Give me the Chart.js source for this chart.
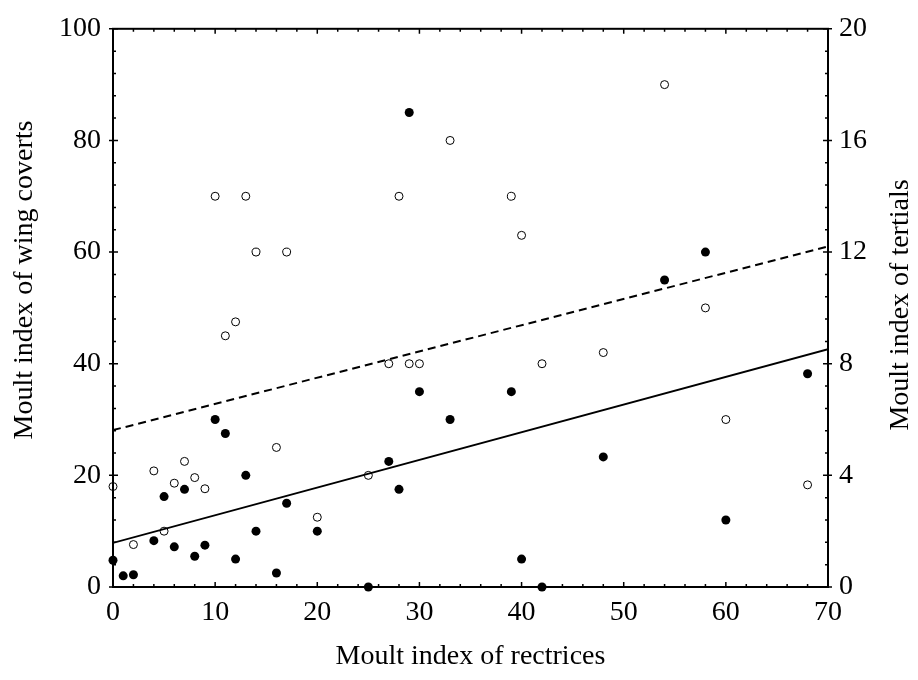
<!DOCTYPE html>
<html>
<head>
<meta charset="utf-8">
<script src="https://cdn.jsdelivr.net/npm/chart.js@4/dist/chart.umd.min.js"></script>
<style>
  html, body { margin: 0; padding: 0; background: #fff; }
  #wrap { width: 918px; height: 680px; }
</style>
</head>
<body>
<div id="wrap"><canvas id="chart" width="918" height="680"></canvas></div>
<script>
// Wing coverts (filled circles, left axis)
const covertX = [0, 1, 2, 4, 5, 6, 7, 8, 9, 10, 11, 12, 13, 14, 16, 17, 20, 25, 27, 28, 29, 30, 33, 39, 40, 42, 48, 54, 58, 60, 68]
const covertY = [4.8, 2, 2.2, 8.3, 16.2, 7.2, 17.5, 5.5, 7.5, 30, 27.5, 5, 20, 10, 2.5, 15, 10, 0, 22.5, 17.5, 85, 35, 30, 35, 5, 0, 23.3, 55, 60, 12, 38.2]

// Tertials (open circles, right axis)
const tertialX = [0, 2, 4, 5, 6, 7, 8, 9, 10, 11, 12, 13, 14, 16, 17, 20, 25, 27, 28, 29, 30, 33, 39, 40, 42, 48, 54, 58, 60, 68]
const tertialY = [3.6, 1.52, 4.16, 2, 3.72, 4.5, 3.92, 3.52, 14, 9, 9.5, 14, 12, 5, 12, 2.5, 4, 8, 14, 8, 8, 16, 14, 12.6, 8, 8.4, 18, 10, 6, 3.66]

// Fitted lines
const covertFitX = [0, 70]
const covertFitY = [7.9, 42.6]
const tertialFitX = [0, 70]
const tertialFitY = [5.62, 12.2]

const xTicks = [0, 10, 20, 30, 40, 50, 60, 70]
const leftTicks = [0, 20, 40, 60, 80, 100]
const rightTicks = [0, 4, 8, 12, 16, 20]

const FONT = "'Liberation Serif', 'Times New Roman', serif"
const pts = (xs, ys) => xs.map((x, i) => ({ x, y: ys[i] }))

// draws the frame, inside ticks and the two rotated axis titles
const frameAndTicks = {
  id: 'frameAndTicks',
  afterDraw(chart) {
    const { ctx, chartArea: a, scales } = chart
    ctx.save()
    ctx.strokeStyle = '#000'
    ctx.lineWidth = 2
    ctx.strokeRect(a.left, a.top, a.right - a.left, a.bottom - a.top)

    ctx.lineWidth = 1.5
    ctx.beginPath()
    // x minor every 2, bottom and top
    for (let i = 0; i <= 35; i++) {
      const px = scales.x.getPixelForValue(i * 2)
      const len = i % 5 === 0 ? 5 : 3
      ctx.moveTo(px, a.bottom); ctx.lineTo(px, a.bottom - len)
      ctx.moveTo(px, a.top); ctx.lineTo(px, a.top + len)
    }
    // left minor every 4
    for (let i = 0; i <= 25; i++) {
      const py = scales.y.getPixelForValue(i * 4)
      if (i % 5 === 0) {
        ctx.moveTo(a.left - 4, py); ctx.lineTo(a.left + 5, py)
      } else {
        ctx.moveTo(a.left, py); ctx.lineTo(a.left + 3, py)
      }
    }
    // right minor every 0.8
    for (let i = 0; i <= 25; i++) {
      const py = scales.y2.getPixelForValue(i * 0.8)
      if (i % 5 === 0) {
        ctx.moveTo(a.right + 4, py); ctx.lineTo(a.right - 5, py)
      } else {
        ctx.moveTo(a.right, py); ctx.lineTo(a.right - 3, py)
      }
    }
    ctx.stroke()

    ctx.fillStyle = '#000'
    ctx.font = '28px ' + FONT
    ctx.textAlign = 'center'
    ctx.textBaseline = 'middle'
    ctx.translate(25, 280)
    ctx.rotate(-Math.PI / 2)
    ctx.fillText('Moult index of wing coverts', 0, 0)
    ctx.restore()

    ctx.save()
    ctx.fillStyle = '#000'
    ctx.font = '28px ' + FONT
    ctx.textAlign = 'center'
    ctx.textBaseline = 'middle'
    ctx.translate(901, 305)
    ctx.rotate(-Math.PI / 2)
    ctx.fillText('Moult index of tertials', 0, 0)
    ctx.restore()
  }
}

const ctx = document.getElementById('chart').getContext('2d')
new Chart(ctx, {
  type: 'scatter',
  data: {
    datasets: [
      {
        label: 'Wing coverts fit',
        type: 'line',
        data: pts(covertFitX, covertFitY),
        yAxisID: 'y',
        borderColor: '#000',
        borderWidth: 1.8,
        pointRadius: 0,
        fill: false
      },
      {
        label: 'Tertials fit',
        type: 'line',
        data: pts(tertialFitX, tertialFitY),
        yAxisID: 'y2',
        borderColor: '#000',
        borderWidth: 2,
        borderDash: [8, 5],
        pointRadius: 0,
        fill: false
      },
      {
        label: 'Tertials',
        data: pts(tertialX, tertialY),
        yAxisID: 'y2',
        pointRadius: 4,
        pointBackgroundColor: '#fff',
        pointBorderColor: '#000',
        pointBorderWidth: 1,
        clip: false
      },
      {
        label: 'Wing coverts',
        data: pts(covertX, covertY),
        yAxisID: 'y',
        pointRadius: 4.5,
        pointBackgroundColor: '#000',
        pointBorderColor: '#000',
        pointBorderWidth: 0,
        clip: false
      }
    ]
  },
  options: {
    responsive: false,
    animation: false,
    layout: { padding: { top: 25, left: 0, right: 0, bottom: 0 } },
    plugins: {
      legend: { display: false },
      tooltip: { enabled: false }
    },
    scales: {
      x: {
        type: 'linear',
        position: 'bottom',
        min: 0,
        max: 70,
        afterBuildTicks: (s) => { s.ticks = xTicks.map(v => ({ value: v })) },
        afterFit: (s) => { s.height = 93 },
        ticks: { color: '#000', padding: 9, maxRotation: 0, font: { family: FONT, size: 28 } },
        grid: { display: false, drawTicks: false },
        border: { display: false },
        title: {
          display: true,
          text: 'Moult index of rectrices',
          color: '#000',
          font: { family: FONT, size: 28 },
          padding: { top: 0, bottom: 7 }
        }
      },
      y: {
        type: 'linear',
        position: 'left',
        min: 0,
        max: 100,
        afterBuildTicks: (s) => { s.ticks = leftTicks.map(v => ({ value: v })) },
        afterFit: (s) => { s.width = 113 },
        ticks: { color: '#000', padding: 12, font: { family: FONT, size: 28 } },
        grid: { display: false, drawTicks: false },
        border: { display: false }
      },
      y2: {
        type: 'linear',
        position: 'right',
        min: 0,
        max: 20,
        afterBuildTicks: (s) => { s.ticks = rightTicks.map(v => ({ value: v })) },
        afterFit: (s) => { s.width = 90 },
        ticks: { color: '#000', padding: 11, font: { family: FONT, size: 28 } },
        grid: { display: false, drawTicks: false },
        border: { display: false }
      }
    }
  },
  plugins: [frameAndTicks]
})
</script>
</body>
</html>
